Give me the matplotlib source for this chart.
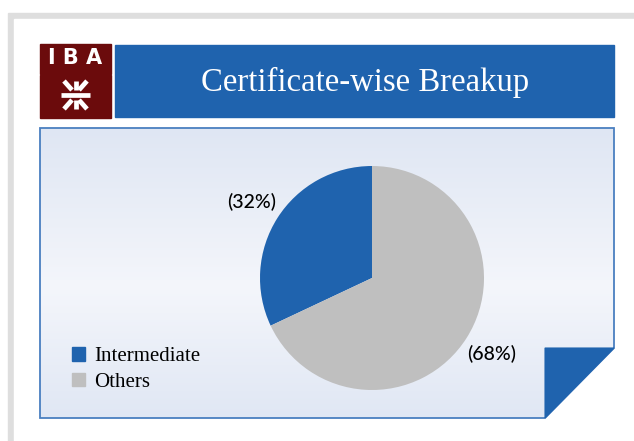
import numpy as np
import matplotlib
matplotlib.use('Agg')
import matplotlib.pyplot as plt
from matplotlib.patches import Rectangle, Polygon

# 데이터
categories = ['Intermediate', 'Others']
shares = [32, 68]
colors = ['#1f63ae', '#bfbfbf']
title = 'Certificate-wise Breakup'

W, H = 634, 441
fig = plt.figure(figsize=(W / 100, H / 100), dpi=100)

# 배경용 축 (픽셀 좌표)
bg = fig.add_axes([0, 0, 1, 1])
bg.set_xlim(0, W)
bg.set_ylim(H, 0)
bg.axis('off')

bg.add_patch(Rectangle((8, 13), W, H, color='#dedede', zorder=0))
bg.add_patch(Rectangle((14, 19), W, H, color='white', zorder=1))

# 로고
red = '#6b0b0c'
bg.add_patch(Rectangle((40, 44), 71, 30, color=red, zorder=2))
bg.add_patch(Rectangle((40, 75), 71, 43, color=red, zorder=2))
bg.text(75.5, 58, 'I B A', color='white', fontsize=15, fontweight='bold',
        family='DejaVu Sans', ha='center', va='center', zorder=3)
cx, cy = 75.5, 95
lw = 3.4
segs = [((61, cy), (90, cy)),
        ((cx, 81), (cx, 90)), ((64, 81), (72, 90)), ((87, 81), (79, 90)),
        ((cx, 100), (cx, 109)), ((72, 100), (64, 109)), ((79, 100), (87, 109))]
for (x0, y0), (x1, y1) in segs:
    bg.plot([x0, x1], [y0, y1], color='white', lw=lw, solid_capstyle='butt', zorder=3)

# 제목 바
bg.add_patch(Rectangle((115, 45), 499, 72, color='#1f63ae', zorder=2))
bg.text(365, 82, title, color='white', fontsize=23.6, family='Liberation Serif',
        ha='center', va='center', zorder=3)

# 패널 (그라데이션)
px0, py0, px1, py1 = 40, 128, 614, 418
t = np.linspace(0, 1, 200)
top = np.array([0xdf, 0xe6, 0xf3]) / 255
mid = np.array([0xf4, 0xf6, 0xfb]) / 255
bot = np.array([0xe0, 0xe7, 0xf4]) / 255
img = np.zeros((200, 1, 3))
for i, v in enumerate(t):
    if v < 0.55:
        f = v / 0.55
        img[i, 0] = top + (mid - top) * f
    else:
        f = (v - 0.55) / 0.45
        img[i, 0] = mid + (bot - mid) * f
im = bg.imshow(img, extent=[px0, px1, py1, py0], aspect='auto', zorder=2)
outline = [(px0, py0), (px1, py0), (px1, 348), (545, py1), (px0, py1)]
clip = Polygon(outline, closed=True, transform=bg.transData)
im.set_clip_path(clip)
bg.add_patch(Polygon(outline, closed=True, facecolor='none', edgecolor='#4a7fc0',
                     lw=1.3, zorder=4))
bg.add_patch(Polygon([(545, 348), (px1, 348), (545, py1)], closed=True,
                     facecolor='#1f63ae', edgecolor='#1f63ae', lw=0.8, zorder=5))

# 파이 차트
r = 112
pcx, pcy = 372, 278
ax = fig.add_axes([(pcx - r) / W, (H - pcy - r) / H, 2 * r / W, 2 * r / H])
ax.pie(shares, colors=colors, startangle=90, counterclock=True, radius=1,
       autopct=lambda p: '(%d%%)' % round(p), pctdistance=1.27,
       textprops=dict(family='Lato', fontsize=14, fontweight='medium', color='black'),
       wedgeprops=dict(linewidth=0))
ax.set_xlim(-1, 1)
ax.set_ylim(-1, 1)
ax.set_aspect('equal')
ax.axis('off')
for txt in ax.texts:
    txt.set_clip_on(False)

handles = [Rectangle((0, 0), 1, 1, color=c) for c in colors]
fig.legend(handles, categories, loc='upper left', bbox_to_anchor=(64 / W, 1 - 339 / H),
           frameon=False, prop=dict(family='Liberation Serif', size=15),
           handlelength=0.6, handleheight=0.6, handletextpad=0.45,
           labelspacing=0.3, borderaxespad=0)

fig.savefig('out.png', dpi=100)
